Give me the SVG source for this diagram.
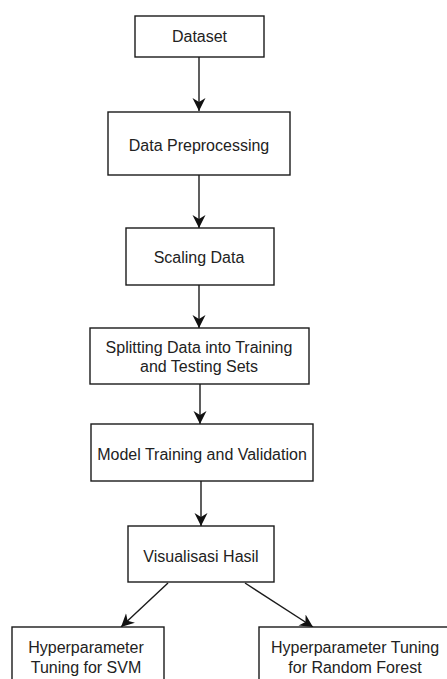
<svg xmlns="http://www.w3.org/2000/svg" width="447" height="679" viewBox="0 0 447 679">
<style>
rect{fill:#fff;stroke:#1a1a1a;stroke-width:1.4}
text{font-family:"Liberation Sans",Arial,sans-serif;font-size:16px;fill:#222;text-anchor:middle}
.c line{stroke:#1a1a1a;stroke-width:1.4}
</style>
<defs>
<marker id="a" viewBox="0 0 14 14" refX="13" refY="7" markerWidth="14" markerHeight="14" markerUnits="userSpaceOnUse" orient="auto">
<path d="M0,0.5 L13,7 L0,13.5 L4,7 Z" fill="#111"/>
</marker>
</defs>
<rect width="447" height="679" style="stroke:none"/>
<g class="c">
<line x1="199" y1="57" x2="199" y2="111" marker-end="url(#a)"/>
<line x1="199" y1="175" x2="199" y2="228" marker-end="url(#a)"/>
<line x1="199" y1="285" x2="199" y2="328" marker-end="url(#a)"/>
<line x1="200" y1="384" x2="200" y2="424" marker-end="url(#a)"/>
<line x1="201" y1="481" x2="201" y2="526" marker-end="url(#a)"/>
<line x1="168" y1="583" x2="121" y2="627" marker-end="url(#a)"/>
<line x1="245" y1="583" x2="313" y2="627" marker-end="url(#a)"/>
</g>
<g id="n1"><rect x="135" y="16" width="129" height="41"/><text x="199.5" y="42">Dataset</text></g>
<g id="n2"><rect x="108" y="112" width="182" height="63"/><text x="199" y="151">Data Preprocessing</text></g>
<g id="n3"><rect x="126" y="228" width="148" height="57"/><text x="199" y="263">Scaling Data</text></g>
<g id="n4"><rect x="90" y="328" width="219" height="56"/><text x="199" y="353">Splitting Data into Training</text><text x="199" y="372">and Testing Sets</text></g>
<g id="n5"><rect x="91" y="424" width="222" height="57"/><text x="202" y="460">Model Training and Validation</text></g>
<g id="n6"><rect x="128" y="526" width="146" height="56"/><text x="201" y="562">Visualisasi Hasil</text></g>
<g id="n7"><rect x="12" y="627" width="152" height="60"/><text x="86" y="653">Hyperparameter</text><text x="86" y="673">Tuning for SVM</text></g>
<g id="n8"><rect x="259" y="627" width="194" height="60"/><text x="355" y="653">Hyperparameter Tuning</text><text x="355" y="673">for Random Forest</text></g>
</svg>
